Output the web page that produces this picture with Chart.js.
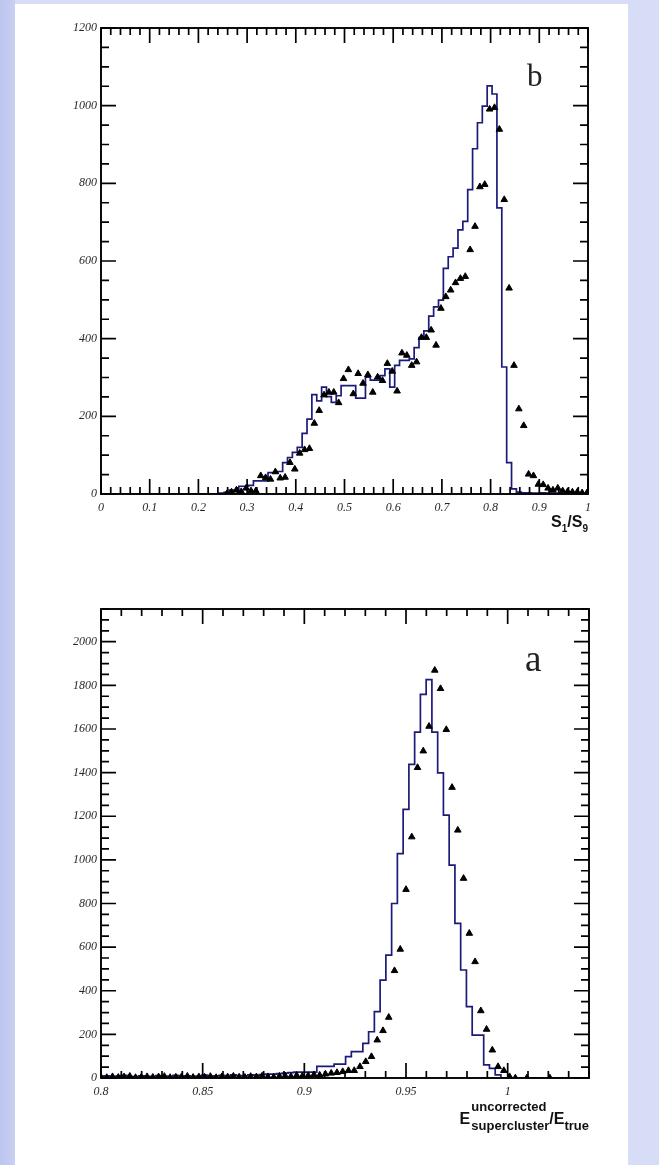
<!DOCTYPE html>
<html><head><meta charset="utf-8">
<script src="https://cdn.jsdelivr.net/npm/chart.js@4.4.0/dist/chart.umd.min.js"></script>
<style>
html,body{margin:0;padding:0;}
body{width:659px;height:1165px;position:relative;overflow:hidden;background:#d7ddf7;}
#strip{position:absolute;left:0;top:0;width:15px;height:1165px;background:linear-gradient(to right,#bcc5ef,#c9d0f2);}
#panel{position:absolute;left:15px;top:4px;width:613px;height:1161px;background:#fff;}
canvas{position:absolute;left:0;}
#cb{top:0;}
#ca{top:580px;}
</style></head><body>
<div id="strip"></div><div id="panel"></div>
<canvas id="cb" width="659" height="560" style="width:659px;height:560px"></canvas>
<canvas id="ca" width="659" height="585" style="width:659px;height:585px"></canvas>
<script>
// ---------- Panel b : S1/S9 ----------
const bBinLo = 0.003, bBinWidth = 0.01;
const bHist = [0,0,0,0,0,0,0,0,0,0, 0,0,0,0,0,0,0,0,0,0, 0,0,0,0,0,
  2,4,10,10,20,20,22,34,34,34,
  55,55,58,81,94,107,120,156,193,256,
  240,275,251,236,253,279,279,279,247,247,
  301,293,293,305,322,275,331,344,344,348,
  377,403,420,458,482,499,581,611,633,680,
  702,784,889,956,999,1051,1030,737,327,81,
  13,5,3,3,2,2,3,2,2,2,1,2,1,1,1];
const bData = [null,null,null,null,null,null,null,null,null,null, null,null,null,null,null,null,null,null,null,null, null,null,null,null,null,
  0,5,10,6,15,8,8,47,42,38,
  57,41,43,81,64,105,114,117,182,215,
  255,262,262,235,297,320,258,310,285,307,
  262,301,292,336,316,265,363,357,331,340,
  403,403,422,383,478,508,525,544,555,560,
  629,689,791,797,991,995,939,758,530,331,
  219,176,51,47,25,24,15,10,15,8,6,5,5,3,3];
const bXMajor = [0,0.1,0.2,0.3,0.4,0.5,0.6,0.7,0.8,0.9,1];
const bXLabels = ['0','0.1','0.2','0.3','0.4','0.5','0.6','0.7','0.8','0.9','1'];
const bYMajor = [0,200,400,600,800,1000,1200];
const bYLabels = ['0','200','400','600','800','1000','1200'];

// ---------- Panel a : E_uncorr/E_true ----------
const aBinLo = 0.7986, aBinWidth = 0.00283;
const aHist = [8,5,10,6,9,12,7,5,10,8,6,11,9,7,12,8,10,6,9,13,8,10,12,9,14,11,10,15,13,16,18,
  18,20,22,25,27,27,27,27,53,53,
  53,64,64,98,121,121,159,212,304,449,
  563,800,1029,1231,1438,1586,1759,1826,1586,1399,
  1205,976,709,495,327,197,197,60,44,14,
  0,0,0,0,0,0,0,0,0,0,0,0,0,0];
const aData = [4,2,6,3,5,8,2,4,6,3, 5,7,2,4,6,8,3,5,4,7, 2,6,5,8,4,3,7,5,9,6, 4,8,10,7,12,9,11,15,13,18, 22,25,
  29,34,34,52,75,98,174,217,278,492,
  590,864,1105,1423,1499,1612,1869,1785,1597,1332,
  1136,915,663,533,308,223,128,52,34,6,
  0,null,0,null,null,null,0,null,null,null,null,null,null];
const aXMajor = [0.8,0.85,0.9,0.95,1];
const aXLabels = ['0.8','0.85','0.9','0.95','1'];
const aYMajor = [0,200,400,600,800,1000,1200,1400,1600,1800,2000];
const aYLabels = ['0','200','400','600','800','1000','1200','1400','1600','1800','2000'];

const NAVY = '#1b1b7a';
const TICK_FONT = {family: "'Liberation Serif', 'DejaVu Serif', serif", style: 'italic', size: 12};
const TICK_COLOR = '#262626';
const SANS = '"Liberation Sans", Arial, sans-serif';

function histPoints(lo, w, vals) {
  const pts = vals.map((v, i) => ({x: lo + i * w, y: v}));
  pts.push({x: lo + vals.length * w, y: vals[vals.length - 1]});
  return pts;
}
function markerPoints(lo, w, vals) {
  const pts = [];
  vals.forEach((v, i) => { if (v !== null) pts.push({x: lo + (i + 0.5) * w, y: v}); });
  return pts;
}
function range(a, b, s) { const r = []; for (let v = a; v <= b + s * 1e-6; v += s) r.push(+v.toFixed(6)); return r; }

function drawPieces(ctx, pieces, rightX) {
  let w = 0;
  pieces.forEach(p => { ctx.font = p.font; p.w = p.w0 !== undefined ? p.w0 : ctx.measureText(p.t).width; w += p.w + (p.gap || 0); });
  let x = rightX - w;
  pieces.forEach(p => {
    ctx.font = p.font;
    if (p.stack) {
      p.stack.forEach(s => { ctx.font = s.font; ctx.fillText(s.t, x, s.y); });
    } else {
      ctx.fillText(p.t, x, p.y);
    }
    x += p.w + (p.gap || 0);
  });
}

function makeChart(id, cfg) {
  const plugin = {
    id: 'rootFrame',
    afterDraw(chart) {
      const ctx = chart.ctx, a = chart.chartArea, x = chart.scales.x, y = chart.scales.y;
      ctx.save();
      ctx.strokeStyle = '#000';
      ctx.lineWidth = 1.9;
      ctx.strokeRect(a.left, a.top, a.right - a.left, a.bottom - a.top);
      ctx.lineWidth = 1.7;
      ctx.beginPath();
      const inX = p => p >= a.left - 0.5 && p <= a.right + 0.5;
      const inY = p => p >= a.top - 0.5 && p <= a.bottom + 0.5;
      const xt = (vals, len) => vals.forEach(v => {
        const p = x.getPixelForValue(v); if (!inX(p)) return;
        ctx.moveTo(p, a.bottom); ctx.lineTo(p, a.bottom - len);
        ctx.moveTo(p, a.top); ctx.lineTo(p, a.top + len);
      });
      const yt = (vals, len) => vals.forEach(v => {
        const p = y.getPixelForValue(v); if (!inY(p)) return;
        ctx.moveTo(a.left, p); ctx.lineTo(a.left + len, p);
        ctx.moveTo(a.right, p); ctx.lineTo(a.right - len, p);
      });
      xt(cfg.xMinor, 7); xt(cfg.xMajor, 15);
      yt(cfg.yMinor, 8); yt(cfg.yMajor, 15);
      ctx.stroke();
      // panel letter
      ctx.fillStyle = '#222';
      ctx.textAlign = 'center';
      ctx.textBaseline = 'alphabetic';
      ctx.font = cfg.letterFont;
      ctx.fillText(cfg.letter, x.getPixelForValue(cfg.letterX), y.getPixelForValue(cfg.letterY));
      // axis title
      ctx.fillStyle = '#111';
      ctx.textAlign = 'left';
      cfg.title(ctx, a);
      ctx.restore();
    }
  };
  return new Chart(document.getElementById(id), {
    type: 'scatter',
    data: {datasets: [
      {data: cfg.markers, pointStyle: 'triangle', pointRadius: 3.8, backgroundColor: '#000', borderColor: '#000', borderWidth: 1, showLine: false, order: 0},
      {data: cfg.hist, showLine: true, stepped: 'after', borderColor: NAVY, borderWidth: 1.7, pointRadius: 0, fill: false, order: 1}
    ]},
    options: {
      responsive: false, animation: false, events: [],
      layout: {padding: {left: 0, top: cfg.top, right: cfg.right, bottom: 0}},
      plugins: {legend: {display: false}, tooltip: {enabled: false}},
      scales: {
        x: {type: 'linear', min: cfg.xMin, max: cfg.xMax,
          grid: {display: false, drawTicks: false}, border: {display: false},
          afterBuildTicks: s => { s.ticks = cfg.xMajor.map(v => ({value: v})); },
          afterFit: s => { s.height = cfg.xH; },
          ticks: {font: TICK_FONT, color: TICK_COLOR, padding: 7, maxRotation: 0, autoSkip: false,
            callback: (v, i) => cfg.xLabels[i]}},
        y: {type: 'linear', min: 0, max: cfg.yMax,
          grid: {display: false, drawTicks: false}, border: {display: false},
          afterBuildTicks: s => { s.ticks = cfg.yMajor.map(v => ({value: v})); },
          afterFit: s => { s.width = cfg.left; },
          ticks: {font: TICK_FONT, color: TICK_COLOR, padding: 4, autoSkip: false,
            callback: (v, i) => cfg.yLabels[i]}}
      }
    },
    plugins: [plugin]
  });
}

// panel b
makeChart('cb', {
  top: 28, right: 71, left: 101, xH: 560 - 494,
  xMin: 0, xMax: 1, yMax: 1200,
  xMajor: bXMajor, xLabels: bXLabels, yMajor: bYMajor, yLabels: bYLabels,
  xMinor: range(0, 1, 0.02), yMinor: range(0, 1200, 50),
  hist: histPoints(bBinLo, bBinWidth, bHist),
  markers: markerPoints(bBinLo, bBinWidth, bData),
  letter: 'b', letterFont: '31px "Liberation Serif", serif', letterX: 0.8906, letterY: 1051,
  title: (ctx, a) => {
    const big = 'bold 16px ' + SANS, small = 'bold 10px ' + SANS;
    const yb = a.bottom + 33, ys = yb + 5;
    drawPieces(ctx, [
      {t: 'S', font: big, y: yb}, {t: '1', font: small, y: ys},
      {t: '/', font: big, y: yb}, {t: 'S', font: big, y: yb}, {t: '9', font: small, y: ys}
    ], a.right);
  }
});

// panel a
makeChart('ca', {
  top: 29, right: 70, left: 101, xH: 585 - 498,
  xMin: 0.8, xMax: 1.04, yMax: 2150,
  xMajor: aXMajor, xLabels: aXLabels, yMajor: aYMajor, yLabels: aYLabels,
  xMinor: range(0.8, 1.04, 0.01), yMinor: range(0, 2150, 50),
  hist: histPoints(aBinLo, aBinWidth, aHist),
  markers: markerPoints(aBinLo, aBinWidth, aData),
  letter: 'a', letterFont: '37px "Liberation Serif", serif', letterX: 1.0126, letterY: 1866,
  title: (ctx, a) => {
    const big = 'bold 16px ' + SANS, small = 'bold 13px ' + SANS;
    const yE = a.bottom + 46, ySup = a.bottom + 33, ySub = a.bottom + 52;
    ctx.font = small;
    const wStack = Math.max(ctx.measureText('uncorrected').width, ctx.measureText('supercluster').width);
    drawPieces(ctx, [
      {t: 'E', font: big, y: yE, gap: 1},
      {stack: [{t: 'uncorrected', font: small, y: ySup}, {t: 'supercluster', font: small, y: ySub}], w0: wStack, font: small},
      {t: '/', font: big, y: yE}, {t: 'E', font: big, y: yE},
      {t: 'true', font: small, y: ySub}
    ], a.right);
  }
});
</script>
</body></html>
